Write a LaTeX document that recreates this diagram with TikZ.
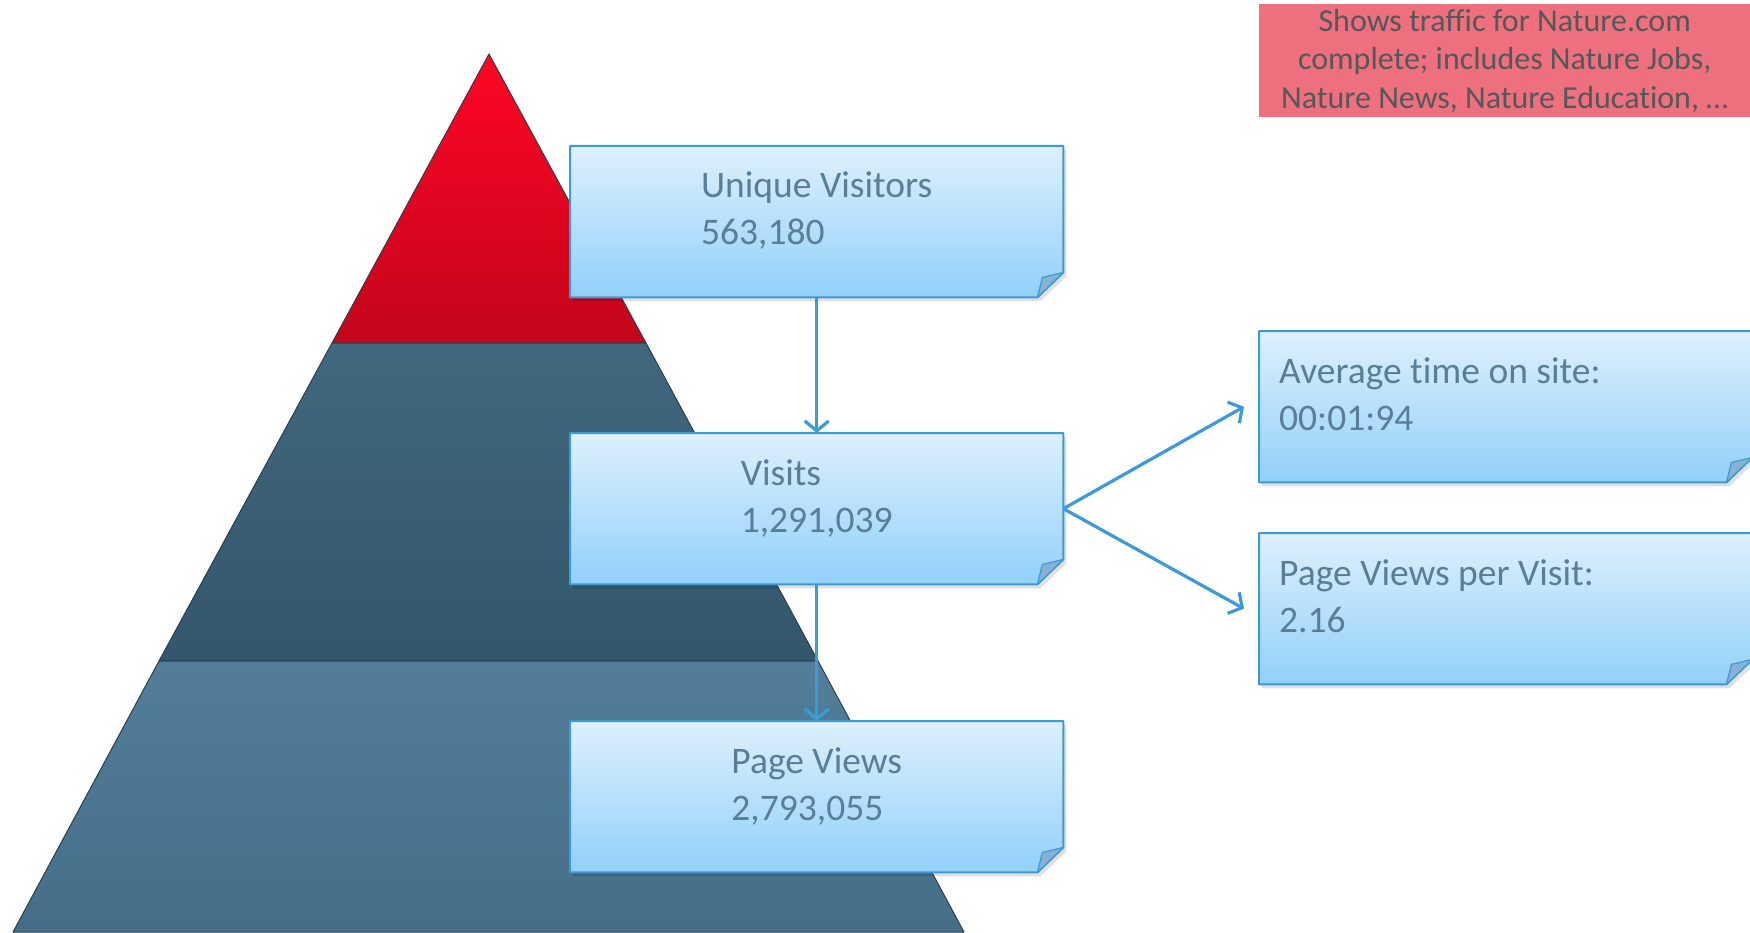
\documentclass[tikz,border=0pt]{standalone}
\usepackage{fontspec}
\setmainfont{Carlito}[Ligatures=NoCommon]
\usetikzlibrary{arrows.meta}
\definecolor{boxedge}{HTML}{3C9AD6}
\definecolor{boxtop}{HTML}{DEF0FD}
\definecolor{boxbot}{HTML}{92D0F9}
\definecolor{foldc}{HTML}{86B2D4}
\definecolor{txtc}{HTML}{5A7E98}
\definecolor{notec}{HTML}{EE6F7D}
\definecolor{notetxt}{HTML}{555858}
\definecolor{redtop}{HTML}{FF0624}
\definecolor{redbot}{HTML}{C2061B}
\definecolor{midtop}{HTML}{41687F}
\definecolor{midbot}{HTML}{33566B}
\definecolor{lowtop}{HTML}{527E9A}
\definecolor{lowbot}{HTML}{456E88}
\definecolor{pyredge}{HTML}{2C3E4C}
\pgfdeclarelayer{pyr}
\pgfdeclarelayer{shapes}
\pgfsetlayers{pyr,shapes,main}
\newcommand\notebox[1]{%
  \fill[black,opacity=.12] ([shift={(3pt,-4pt)}]#1.north west) -- ([shift={(3pt,-4pt)}]#1.north east) -- ([shift={(3pt,21pt)}]#1.south east) -- ([shift={(-23pt,-4pt)}]#1.south east) -- ([shift={(3pt,-4pt)}]#1.south west) -- cycle;
  \shade[top color=boxtop,bottom color=boxbot,draw=boxedge,line width=2pt,line join=round]
    (#1.north west) -- (#1.north east) -- ([yshift=25pt]#1.south east) -- ([xshift=-26pt]#1.south east) -- (#1.south west) -- cycle;
  \filldraw[fill=foldc,draw=boxedge,line width=1.2pt,line join=round]
    ([yshift=25pt]#1.south east) -- ([xshift=-26pt]#1.south east) -- ([shift={(-21pt,20pt)}]#1.south east) -- cycle;}
\begin{document}
\begin{tikzpicture}[x=1pt,y=-1pt,
  box/.style={minimum width=493pt,minimum height=151pt,inner sep=0pt,anchor=north west},
  lbl/.style={text=txtc,font=\fontsize{37.5}{47}\selectfont,inner sep=0pt},
  conn/.style={draw=boxedge,line width=3.2pt,-{Straight Barb[length=10pt,width=24pt,line width=3.2pt]}},
  band/.style={draw=pyredge,line width=1pt,line join=round}]
\useasboundingbox (0,0) rectangle (1750,933);
% pyramid
\begin{pgfonlayer}{pyr}
\shade[band,top color=redtop,bottom color=redbot] (489,54) -- (646,343) -- (332,343) -- cycle;
\shade[band,top color=midtop,bottom color=midbot] (332,343) -- (646,343) -- (818,661) -- (159,661) -- cycle;
\shade[band,top color=lowtop,bottom color=lowbot] (159,661) -- (818,661) -- (964,932) -- (13,932) -- cycle;
\end{pgfonlayer}
% boxes
\node[box] (uv) at (570,146) {};
\node[box] (vis) at (570,433) {};
\node[box] (pv) at (570,721) {};
\node[box] (avg) at (1259,331) {};
\node[box] (ppv) at (1259,533) {};
\begin{pgfonlayer}{shapes}
\notebox{uv}\notebox{vis}\notebox{pv}\notebox{avg}\notebox{ppv}
\end{pgfonlayer}
\node[lbl,anchor=base] (uvt) at ([yshift=-52pt]uv.north) {\begin{tabular}[t]{@{}l@{}}Unique Visitors\\563,180\end{tabular}};
\node[lbl,anchor=base] (vist) at ([yshift=-52pt]vis.north) {\begin{tabular}[t]{@{}l@{}}Visits\\1,291,039\end{tabular}};
\node[lbl,anchor=base] (pvt) at ([yshift=-52pt]pv.north) {\begin{tabular}[t]{@{}l@{}}Page Views\\2,793,055\end{tabular}};
\node[lbl,anchor=base west] (avgt) at ([shift={(20pt,-52pt)}]avg.north west) {\begin{tabular}[t]{@{}l@{}}Average time on site:\\00:01:94\end{tabular}};
\node[lbl,anchor=base west] (ppvt) at ([shift={(20pt,-52pt)}]ppv.north west) {\begin{tabular}[t]{@{}l@{}}Page Views per Visit:\\2.16\end{tabular}};
% note
\node[fill=notec,minimum width=491pt,minimum height=113pt,inner sep=0pt,anchor=north west,
  text=notetxt,font=\fontsize{32}{38.5}\selectfont,align=center] (note) at (1259,4)
  {Shows traffic for Nature.com\\complete; includes Nature Jobs,\\Nature News, Nature Education, …};
% connectors
\draw[conn] (uv.south) -- (vis.north);
\draw[conn] (vis.south) -- (pv.north);
\draw[conn] (vis.east) -- ([xshift=-15pt]avg.west);
\draw[conn] (vis.east) -- ([xshift=-15pt]ppv.west);
\end{tikzpicture}
\end{document}
